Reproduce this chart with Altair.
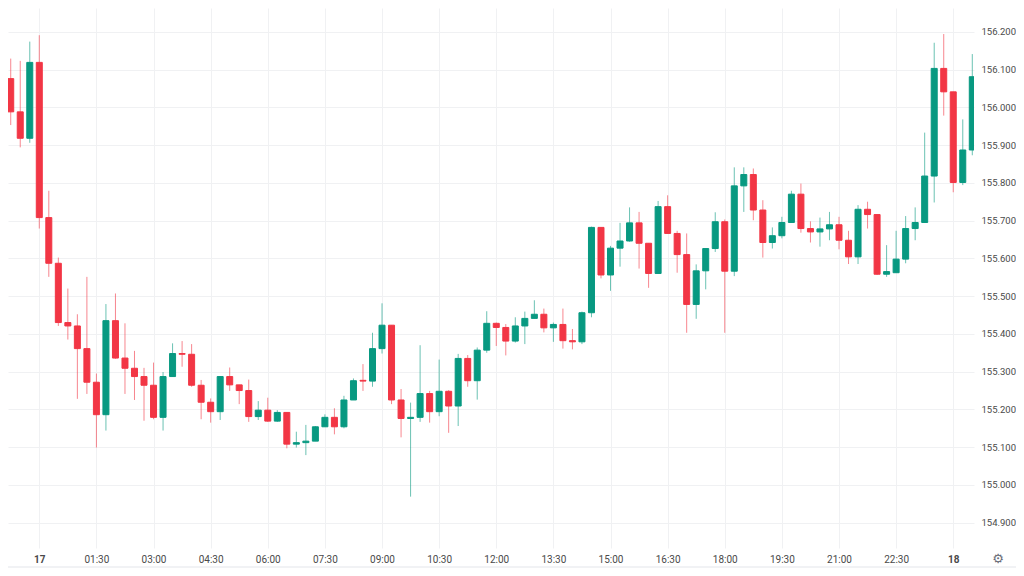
import altair as alt
import pandas as pd

# 15-minute candles; index 0 = 17th 00:00 (minutes offset)
bar_index = list(range(-4, 99))
opens = [155.900, 156.076, 155.988, 155.918, 156.119, 155.708, 155.587, 155.430, 155.421, 155.361,
         155.272, 155.186, 155.435, 155.336, 155.309, 155.287, 155.264, 155.179, 155.287, 155.348,
         155.346, 155.264, 155.219, 155.194, 155.287, 155.265, 155.250, 155.181, 155.198, 155.169,
         155.192, 155.108, 155.112, 155.116, 155.154, 155.179, 155.154, 155.225, 155.277, 155.275,
         155.361, 155.423, 155.225, 155.176, 155.179, 155.242, 155.194, 155.248, 155.209, 155.335,
         155.276, 155.357, 155.428, 155.417, 155.381, 155.421, 155.441, 155.452, 155.416, 155.425,
         155.382, 155.379, 155.456, 155.682, 155.556, 155.627, 155.646, 155.694, 155.640, 155.560,
         155.737, 155.666, 155.610, 155.478, 155.567, 155.626, 155.697, 155.566, 155.792, 155.822,
         155.728, 155.642, 155.660, 155.695, 155.770, 155.679, 155.670, 155.678, 155.689, 155.648,
         155.604, 155.730, 155.716, 155.558, 155.562, 155.598, 155.679, 155.695, 155.818, 156.103,
         156.041, 155.801, 155.887]
highs = [156.151, 156.129, 156.123, 156.174, 156.191, 155.779, 155.602, 155.520, 155.452, 155.551,
         155.295, 155.479, 155.507, 155.428, 155.355, 155.310, 155.324, 155.299, 155.375, 155.381,
         155.373, 155.278, 155.229, 155.288, 155.311, 155.265, 155.279, 155.222, 155.231, 155.198,
         155.192, 155.141, 155.159, 155.156, 155.187, 155.203, 155.236, 155.282, 155.320, 155.403,
         155.481, 155.423, 155.254, 155.218, 155.370, 155.249, 155.332, 155.251, 155.347, 155.344,
         155.364, 155.460, 155.430, 155.426, 155.444, 155.459, 155.489, 155.467, 155.430, 155.467,
         155.413, 155.459, 155.684, 155.682, 155.633, 155.694, 155.735, 155.723, 155.640, 155.752,
         155.767, 155.673, 155.666, 155.584, 155.626, 155.722, 155.703, 155.841, 155.841, 155.838,
         155.754, 155.682, 155.710, 155.779, 155.798, 155.698, 155.708, 155.723, 155.710, 155.673,
         155.741, 155.750, 155.716, 155.635, 155.673, 155.712, 155.735, 155.933, 156.171, 156.194,
         156.041, 155.968, 156.141]
lows = [155.900, 155.953, 155.894, 155.906, 155.679, 155.551, 155.421, 155.385, 155.228, 155.241,
        155.099, 155.144, 155.334, 155.241, 155.225, 155.170, 155.174, 155.144, 155.287, 155.313,
        155.260, 155.174, 155.165, 155.172, 155.249, 155.214, 155.167, 155.172, 155.167, 155.167,
        155.097, 155.099, 155.079, 155.116, 155.154, 155.134, 155.150, 155.225, 155.249, 155.260,
        155.348, 155.214, 155.126, 154.969, 155.167, 155.165, 155.182, 155.138, 155.156, 155.260,
        155.226, 155.350, 155.368, 155.343, 155.377, 155.373, 155.441, 155.404, 155.379, 155.361,
        155.359, 155.373, 155.444, 155.547, 155.514, 155.578, 155.644, 155.573, 155.522, 155.560,
        155.666, 155.562, 155.403, 155.440, 155.518, 155.617, 155.403, 155.553, 155.723, 155.701,
        155.602, 155.626, 155.653, 155.695, 155.668, 155.642, 155.631, 155.648, 155.624, 155.585,
        155.585, 155.679, 155.556, 155.551, 155.562, 155.587, 155.648, 155.695, 155.748, 155.978,
        155.775, 155.794, 155.873]
closes = [156.076, 155.988, 155.918, 156.119, 155.708, 155.587, 155.430, 155.421, 155.361, 155.272,
          155.186, 155.435, 155.336, 155.309, 155.287, 155.264, 155.179, 155.287, 155.348, 155.346,
          155.264, 155.219, 155.194, 155.287, 155.265, 155.250, 155.181, 155.198, 155.169, 155.192,
          155.108, 155.112, 155.116, 155.154, 155.179, 155.154, 155.225, 155.276, 155.275, 155.361,
          155.423, 155.225, 155.176, 155.179, 155.242, 155.194, 155.248, 155.209, 155.335, 155.276,
          155.357, 155.428, 155.417, 155.381, 155.421, 155.441, 155.452, 155.416, 155.425, 155.382,
          155.379, 155.456, 155.682, 155.556, 155.627, 155.646, 155.694, 155.640, 155.560, 155.737,
          155.666, 155.610, 155.478, 155.567, 155.626, 155.697, 155.566, 155.792, 155.822, 155.728,
          155.642, 155.660, 155.695, 155.770, 155.679, 155.670, 155.678, 155.689, 155.648, 155.604,
          155.730, 155.716, 155.558, 155.565, 155.598, 155.679, 155.695, 155.818, 156.103, 156.041,
          155.801, 155.887, 156.081]

time_tick_values = [0, 90, 180, 270, 360, 450, 540, 630, 720, 810, 900, 990, 1080, 1170, 1260, 1350, 1440]
time_labels = ["17", "01:30", "03:00", "04:30", "06:00", "07:30", "09:00", "10:30", "12:00",
               "13:30", "15:00", "16:30", "18:00", "19:30", "21:00", "22:30", "18"]
price_ticks = [154.9, 155.0, 155.1, 155.2, 155.3, 155.4, 155.5, 155.6, 155.7, 155.8, 155.9, 156.0, 156.1, 156.2]

UP = "#089981"
DOWN = "#f23645"
FONT = "Roboto"
LABEL_COLOR = "#4a4a4a"
GRID = "#f0f1f3"

df = pd.DataFrame({
    "t": [15 * i for i in bar_index],
    "open": opens, "high": highs, "low": lows, "close": closes,
})
df["dir"] = ["up" if c >= o else "down" for o, c in zip(df["open"], df["close"])]

label_expr = "[" + ",".join("'%s'" % s for s in time_labels) + "][round(datum.value / 90)]"

x_enc = alt.X(
    "t:Q",
    scale=alt.Scale(domain=[-49.3, 1472.7], nice=False, zero=False, padding=0),
    axis=alt.Axis(
        values=time_tick_values, labelExpr=label_expr, title=None,
        grid=True, gridColor=GRID, gridWidth=1, ticks=False, domain=False,
        labelPadding=6, labelFontSize=10, labelFont=FONT, labelColor=LABEL_COLOR,
        labelFontWeight={"condition": {"test": "datum.value % 1440 === 0", "value": "bold"}, "value": "normal"},
        labelFlush=False,
    ),
)
y_scale = alt.Scale(domain=[154.833, 156.263], nice=False, zero=False, padding=0)
color_enc = alt.Color("dir:N", scale=alt.Scale(domain=["up", "down"], range=[UP, DOWN]), legend=None)

base = alt.Chart(df)

wicks = base.mark_rule(strokeWidth=1, opacity=0.6, clip=True).encode(
    x=x_enc,
    y=alt.Y(
        "low:Q", scale=y_scale,
        axis=alt.Axis(
            orient="right", values=price_ticks, format=".3f", title=None,
            grid=True, gridColor=GRID, ticks=False, domain=False,
            labelPadding=7, labelFontSize=9.5, labelFont=FONT, labelColor=LABEL_COLOR,
        ),
    ),
    y2="high:Q",
    color=color_enc,
)

bodies = base.mark_bar(width=6, strokeWidth=1, clip=True).encode(
    x="t:Q",
    y="open:Q",
    y2="close:Q",
    color=color_enc,
    stroke=alt.Stroke("dir:N", scale=alt.Scale(domain=["up", "down"], range=[UP, DOWN]), legend=None),
)

deco_df = pd.DataFrame({"icon": ["\u2699"]})
icon = alt.Chart(deco_df).mark_text(fontSize=13, color="#6a6d78", font="DejaVu Sans").encode(
    x=alt.value(990), y=alt.value(551), text="icon:N"
)
bottom_line = alt.Chart(deco_df).mark_rule(color="#e3e5ea", strokeWidth=1).encode(
    x=alt.value(0), x2=alt.value(1008), y=alt.value(559)
)

chart = alt.layer(wicks, bodies, icon, bottom_line).properties(
    width=966, height=540,
    autosize=alt.AutoSizeParams(type="none"),
    padding={"left": 0, "top": 0, "right": 42, "bottom": 20},
).configure_view(stroke=None)

chart.save("out.html", embed_options={"renderer": "svg", "actions": False})
